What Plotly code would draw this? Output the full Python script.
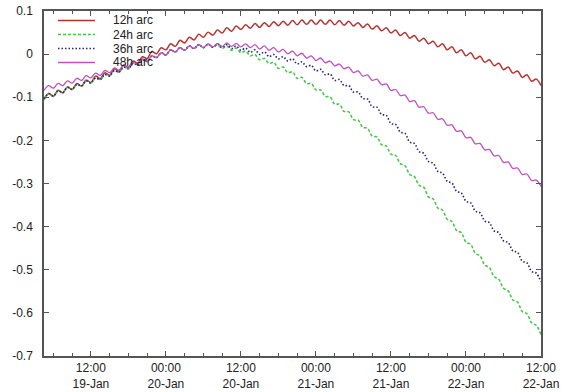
import pandas as pd
import plotly.graph_objects as go

# ---------------- data ----------------
start_time = "2010-01-19 04:30"
sample_step = "45min"

arc_12h = [
    -0.105, -0.091, -0.098, -0.084, -0.090, -0.076, -0.082, -0.068,
    -0.074, -0.060, -0.066, -0.051, -0.057, -0.043, -0.049, -0.034,
    -0.040, -0.025, -0.031, -0.016, -0.021, -0.006, -0.010, 0.006,
    0.001, 0.015, 0.010, 0.024, 0.018, 0.032, 0.026, 0.039,
    0.033, 0.046, 0.039, 0.051, 0.044, 0.056, 0.049, 0.061,
    0.053, 0.065, 0.057, 0.068, 0.060, 0.071, 0.062, 0.073,
    0.064, 0.075, 0.066, 0.076, 0.067, 0.078, 0.068, 0.079,
    0.069, 0.079, 0.069, 0.079, 0.069, 0.079, 0.068, 0.078,
    0.067, 0.076, 0.065, 0.073, 0.062, 0.070, 0.058, 0.066,
    0.054, 0.061, 0.049, 0.056, 0.043, 0.050, 0.037, 0.043,
    0.030, 0.037, 0.024, 0.030, 0.017, 0.024, 0.010, 0.017,
    0.003, 0.010, -0.004, 0.003, -0.011, -0.005, -0.019, -0.013,
    -0.027, -0.021, -0.036, -0.030, -0.044, -0.039, -0.054, -0.048,
    -0.063, -0.058, -0.073,
]

arc_24h = [
    -0.104, -0.092, -0.097, -0.085, -0.089, -0.077, -0.082, -0.070,
    -0.074, -0.062, -0.067, -0.055, -0.059, -0.047, -0.051, -0.038,
    -0.042, -0.030, -0.034, -0.021, -0.025, -0.013, -0.017, -0.004,
    -0.008, 0.003, -0.002, 0.010, 0.005, 0.015, 0.009, 0.019,
    0.013, 0.022, 0.015, 0.023, 0.016, 0.022, 0.013, 0.019,
    0.009, 0.014, 0.003, 0.007, -0.004, -0.001, -0.013, -0.010,
    -0.022, -0.019, -0.033, -0.030, -0.043, -0.041, -0.056, -0.054,
    -0.068, -0.068, -0.083, -0.083, -0.098, -0.099, -0.116, -0.116,
    -0.133, -0.134, -0.152, -0.153, -0.170, -0.172, -0.190, -0.192,
    -0.210, -0.213, -0.232, -0.235, -0.254, -0.259, -0.279, -0.284,
    -0.304, -0.309, -0.331, -0.336, -0.357, -0.362, -0.383, -0.388,
    -0.409, -0.414, -0.436, -0.441, -0.462, -0.468, -0.489, -0.495,
    -0.516, -0.522, -0.543, -0.549, -0.570, -0.575, -0.597, -0.602,
    -0.623, -0.629, -0.650,
]

arc_36h = [
    -0.104, -0.092, -0.097, -0.085, -0.089, -0.077, -0.082, -0.070,
    -0.074, -0.062, -0.067, -0.055, -0.059, -0.047, -0.051, -0.038,
    -0.042, -0.030, -0.034, -0.021, -0.025, -0.013, -0.017, -0.004,
    -0.008, 0.003, -0.002, 0.010, 0.005, 0.015, 0.009, 0.019,
    0.013, 0.022, 0.015, 0.023, 0.016, 0.023, 0.015, 0.022,
    0.013, 0.019, 0.009, 0.014, 0.004, 0.010, -0.001, 0.005,
    -0.006, -0.001, -0.011, -0.006, -0.016, -0.011, -0.023, -0.018,
    -0.029, -0.026, -0.039, -0.035, -0.048, -0.046, -0.061, -0.059,
    -0.073, -0.073, -0.088, -0.088, -0.103, -0.104, -0.122, -0.123,
    -0.140, -0.142, -0.161, -0.163, -0.181, -0.184, -0.204, -0.207,
    -0.226, -0.230, -0.249, -0.253, -0.272, -0.276, -0.295, -0.299,
    -0.318, -0.322, -0.341, -0.345, -0.364, -0.368, -0.387, -0.391,
    -0.410, -0.414, -0.433, -0.437, -0.456, -0.460, -0.480, -0.484,
    -0.504, -0.508, -0.528,
]

arc_48h = [
    -0.084, -0.073, -0.079, -0.068, -0.073, -0.062, -0.067, -0.056,
    -0.061, -0.050, -0.055, -0.044, -0.049, -0.038, -0.043, -0.032,
    -0.037, -0.026, -0.030, -0.019, -0.023, -0.011, -0.016, -0.004,
    -0.008, 0.003, -0.002, 0.010, 0.005, 0.015, 0.009, 0.019,
    0.013, 0.022, 0.015, 0.024, 0.017, 0.025, 0.018, 0.026,
    0.018, 0.025, 0.017, 0.024, 0.015, 0.022, 0.012, 0.019,
    0.009, 0.015, 0.005, 0.011, 0.001, 0.007, -0.004, 0.002,
    -0.009, -0.004, -0.015, -0.009, -0.020, -0.016, -0.027, -0.023,
    -0.034, -0.030, -0.043, -0.039, -0.051, -0.048, -0.061, -0.058,
    -0.071, -0.069, -0.084, -0.082, -0.096, -0.095, -0.110, -0.108,
    -0.123, -0.122, -0.137, -0.136, -0.151, -0.150, -0.165, -0.164,
    -0.179, -0.178, -0.194, -0.193, -0.208, -0.207, -0.222, -0.221,
    -0.236, -0.235, -0.251, -0.250, -0.265, -0.264, -0.279, -0.278,
    -0.293, -0.292, -0.307,
]

series_names = ["12h arc", "24h arc", "36h arc", "48h arc"]

x_range = ["2010-01-19 04:30", "2010-01-22 12:00"]
x_tick_vals = [
    "2010-01-19 12:00", "2010-01-20 00:00", "2010-01-20 12:00",
    "2010-01-21 00:00", "2010-01-21 12:00", "2010-01-22 00:00",
    "2010-01-22 12:00",
]
x_tick_text = [
    "12:00<br>19-Jan", "00:00<br>20-Jan", "12:00<br>20-Jan",
    "00:00<br>21-Jan", "12:00<br>21-Jan", "00:00<br>22-Jan",
    "12:00<br>22-Jan",
]
y_tick_vals = [0.1, 0.0, -0.1, -0.2, -0.3, -0.4, -0.5, -0.6, -0.7]
y_tick_text = ["0.1", "0", "-0.1", "-0.2", "-0.3", "-0.4", "-0.5", "-0.6", "-0.7"]

# ---------------- styling ----------------
line_colors = ["#b83230", "#40c640", "#262680", "#c050c0"]
line_dashes = ["solid", "3px,2px", "1.5px,2px", "solid"]
line_widths = [1.5, 1.5, 1.6, 1.3]

W, H = 570, 392
PLOT_W, PLOT_H = 497, 345
M_L, M_T = 44, 11
M_R = W - M_L - PLOT_W
M_B = H - M_T - PLOT_H
axis_color = "#555555"
font_family = "Liberation Sans, Arial, Helvetica, sans-serif"

series_values = [arc_12h, arc_24h, arc_36h, arc_48h]
times = pd.date_range(start_time, periods=len(arc_12h), freq=sample_step)

fig = go.Figure()
for name, vals, col, dash, lw in zip(series_names, series_values, line_colors, line_dashes, line_widths):
    fig.add_trace(go.Scatter(
        x=times, y=vals, name=name, mode="lines",
        line=dict(color=col, dash=dash, width=lw, shape="spline", smoothing=1.0),
        showlegend=False,
    ))

# gnuplot-style key (inside, top-left), built from the series names
# positions in pixels relative to the plot area's top-left corner
key_line_x0, key_line_x1, key_text_x = 14, 51, 68
key_row0_y, key_row_step = 9.5, 14
shapes, annotations = [], []
for i, (name, col, dash, lw) in enumerate(zip(series_names, line_colors, line_dashes, line_widths)):
    yp = 1 - (key_row0_y + i * key_row_step) / PLOT_H
    shapes.append(dict(
        type="line", xref="paper", yref="paper",
        x0=key_line_x0 / PLOT_W, x1=key_line_x1 / PLOT_W,
        y0=yp, y1=yp, line=dict(color=col, dash=dash, width=lw),
    ))
    annotations.append(dict(
        xref="paper", yref="paper", x=key_text_x / PLOT_W, y=yp,
        xanchor="left", yanchor="middle", text=name, showarrow=False,
        borderpad=0,
        font=dict(family=font_family, size=12, color="#222222"),
    ))

common_axis = dict(
    showline=True, linecolor=axis_color, linewidth=1.5, mirror="allticks",
    ticks="inside", ticklen=5, tickwidth=1.2, tickcolor=axis_color,
    showgrid=False, zeroline=False, automargin=False,
    ticklabeloverflow="allow",
    tickfont=dict(family=font_family, size=12, color="#222222"),
)

fig.update_layout(
    width=W, height=H, autosize=False,
    margin=dict(l=M_L, r=M_R, t=M_T, b=M_B, pad=0, autoexpand=False),
    paper_bgcolor="white", plot_bgcolor="white",
    shapes=shapes, annotations=annotations,
    xaxis=dict(
        type="date", range=x_range, tickmode="array",
        tickvals=x_tick_vals, ticktext=x_tick_text,
        minor=dict(tickmode="linear", tick0="2010-01-19 00:00", dtick=3 * 3600 * 1000,
                   ticks="inside", ticklen=3, tickwidth=1, tickcolor=axis_color),
        ticklabelstandoff=0,
        **common_axis,
    ),
    yaxis=dict(
        range=[-0.7, 0.1], tickmode="array",
        tickvals=y_tick_vals, ticktext=y_tick_text,
        ticklabelstandoff=7,
        **common_axis,
    ),
)

# remove the browser's default 8px page margin so the figure fills the window
fig.write_html(
    "out.html",
    config={"displayModeBar": False},
    post_script="document.body.style.margin='0';document.body.style.overflow='hidden';",
)
